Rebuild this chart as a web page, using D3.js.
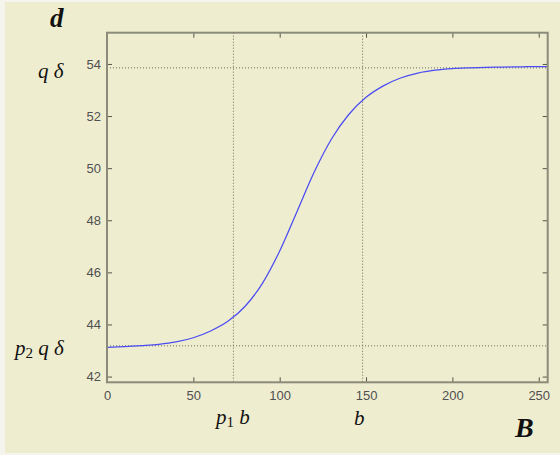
<!DOCTYPE html>
<html><head><meta charset="utf-8">
<script src="https://cdn.jsdelivr.net/npm/d3@7"></script>
<style>body{margin:0;background:#f5f5ee;} svg{display:block;}</style>
</head><body>
<svg id="c" width="560" height="455"></svg>
<script>
const xValues = [0,10,20,30,40,50,60,70,80,90,100,110,120,130,140,150,160,170,180,190,200,210,220,230,240,250,255];
const yValues = [43.12,43.15,43.19,43.24,43.33,43.49,43.75,44.12,44.70,45.58,46.82,48.33,49.85,51.12,52.06,52.72,53.16,53.46,53.65,53.76,53.82,53.85,53.87,53.88,53.89,53.90,53.90];
const xTicks = [0,50,100,150,200,250];
const yTicks = [42,44,46,48,50,52,54];
const refX = [73.2, 148];
const refY = [53.85, 43.18];

const svg = d3.select("#c");
svg.append("rect").attr("x",5).attr("y",2).attr("width",555).attr("height",451).attr("fill","#efedd0");

const L=107, R=547.7, T=32.7, B=382.3;
const x = d3.scaleLinear().domain([0,255.2]).range([L,R]);
const y = d3.scaleLinear().domain([41.78,55.2]).range([B,T]);

// reference lines
const g = svg.append("g");
refX.forEach(v=>{
  g.append("line").attr("x1",x(v)).attr("x2",x(v)).attr("y1",T).attr("y2",B)
   .attr("stroke","#6a6a5a").attr("stroke-width",1).attr("stroke-dasharray","1,2");
});
refY.forEach(v=>{
  g.append("line").attr("x1",L).attr("x2",R).attr("y1",y(v)).attr("y2",y(v))
   .attr("stroke","#6a6a5a").attr("stroke-width",1).attr("stroke-dasharray","1,2");
});

// curve
const line = d3.line().x((d,i)=>x(xValues[i])).y(d=>y(d)).curve(d3.curveMonotoneX);
svg.append("path").datum(yValues).attr("d",line).attr("fill","none")
  .attr("stroke","#4a4cf2").attr("stroke-width",1.25);

// axes (MATLAB style inward ticks on all sides)
const tickStyle = s=>{
  s.select(".domain").remove();
  s.selectAll(".tick line").attr("stroke","#555548");
};
const fontStyle = s=>s.selectAll(".tick text").attr("font-family","'Liberation Sans', Arial, sans-serif")
  .attr("font-size",13).attr("fill","#505050");

const xb = svg.append("g").attr("transform",`translate(0,${B})`)
  .call(d3.axisBottom(x).tickValues(xTicks).tickSize(-5).tickPadding(8).tickFormat(d3.format("d")));
tickStyle(xb); fontStyle(xb);
const xt = svg.append("g").attr("transform",`translate(0,${T})`)
  .call(d3.axisTop(x).tickValues(xTicks).tickSize(-5).tickFormat(""));
tickStyle(xt);
const yl = svg.append("g").attr("transform",`translate(${L},0)`)
  .call(d3.axisLeft(y).tickValues(yTicks).tickSize(-5).tickPadding(6).tickFormat(d3.format("d")));
tickStyle(yl); fontStyle(yl);
const yr = svg.append("g").attr("transform",`translate(${R},0)`)
  .call(d3.axisRight(y).tickValues(yTicks).tickSize(-5).tickFormat(""));
tickStyle(yr);

svg.append("rect").attr("x",L).attr("y",T).attr("width",R-L).attr("height",B-T)
  .attr("fill","none").attr("stroke","#8b8b7a").attr("stroke-width",2);

// math labels
const serif = "'Liberation Serif','Times New Roman',serif";
function lab(xp, yp, size, weight, parts){
  const t = svg.append("text").attr("x",xp).attr("y",yp).attr("font-family",serif)
    .attr("font-size",size).attr("font-style","italic").attr("font-weight",weight).attr("fill","#111");
  parts.forEach(p=>{
    const ts = t.append("tspan").text(p.t);
    if(p.sub){ ts.attr("font-size",size*0.72).attr("font-style","normal").attr("dy",3); }
    if(p.up){ ts.attr("dy",-3); }
  });
  return t;
}
lab(50, 27, 27, "bold", [{t:"d"}]);
lab(38, 78, 21, "normal", [{t:"q \u03b4"}]);
lab(15, 355, 21, "normal", [{t:"p"},{t:"2",sub:true},{t:" q \u03b4",up:true}]);
lab(216, 424, 21, "normal", [{t:"p"},{t:"1",sub:true},{t:" b",up:true}]);
lab(354, 425, 21, "normal", [{t:"b"}]);
lab(515, 437, 28, "bold", [{t:"B"}]);
</script>
</body></html>
